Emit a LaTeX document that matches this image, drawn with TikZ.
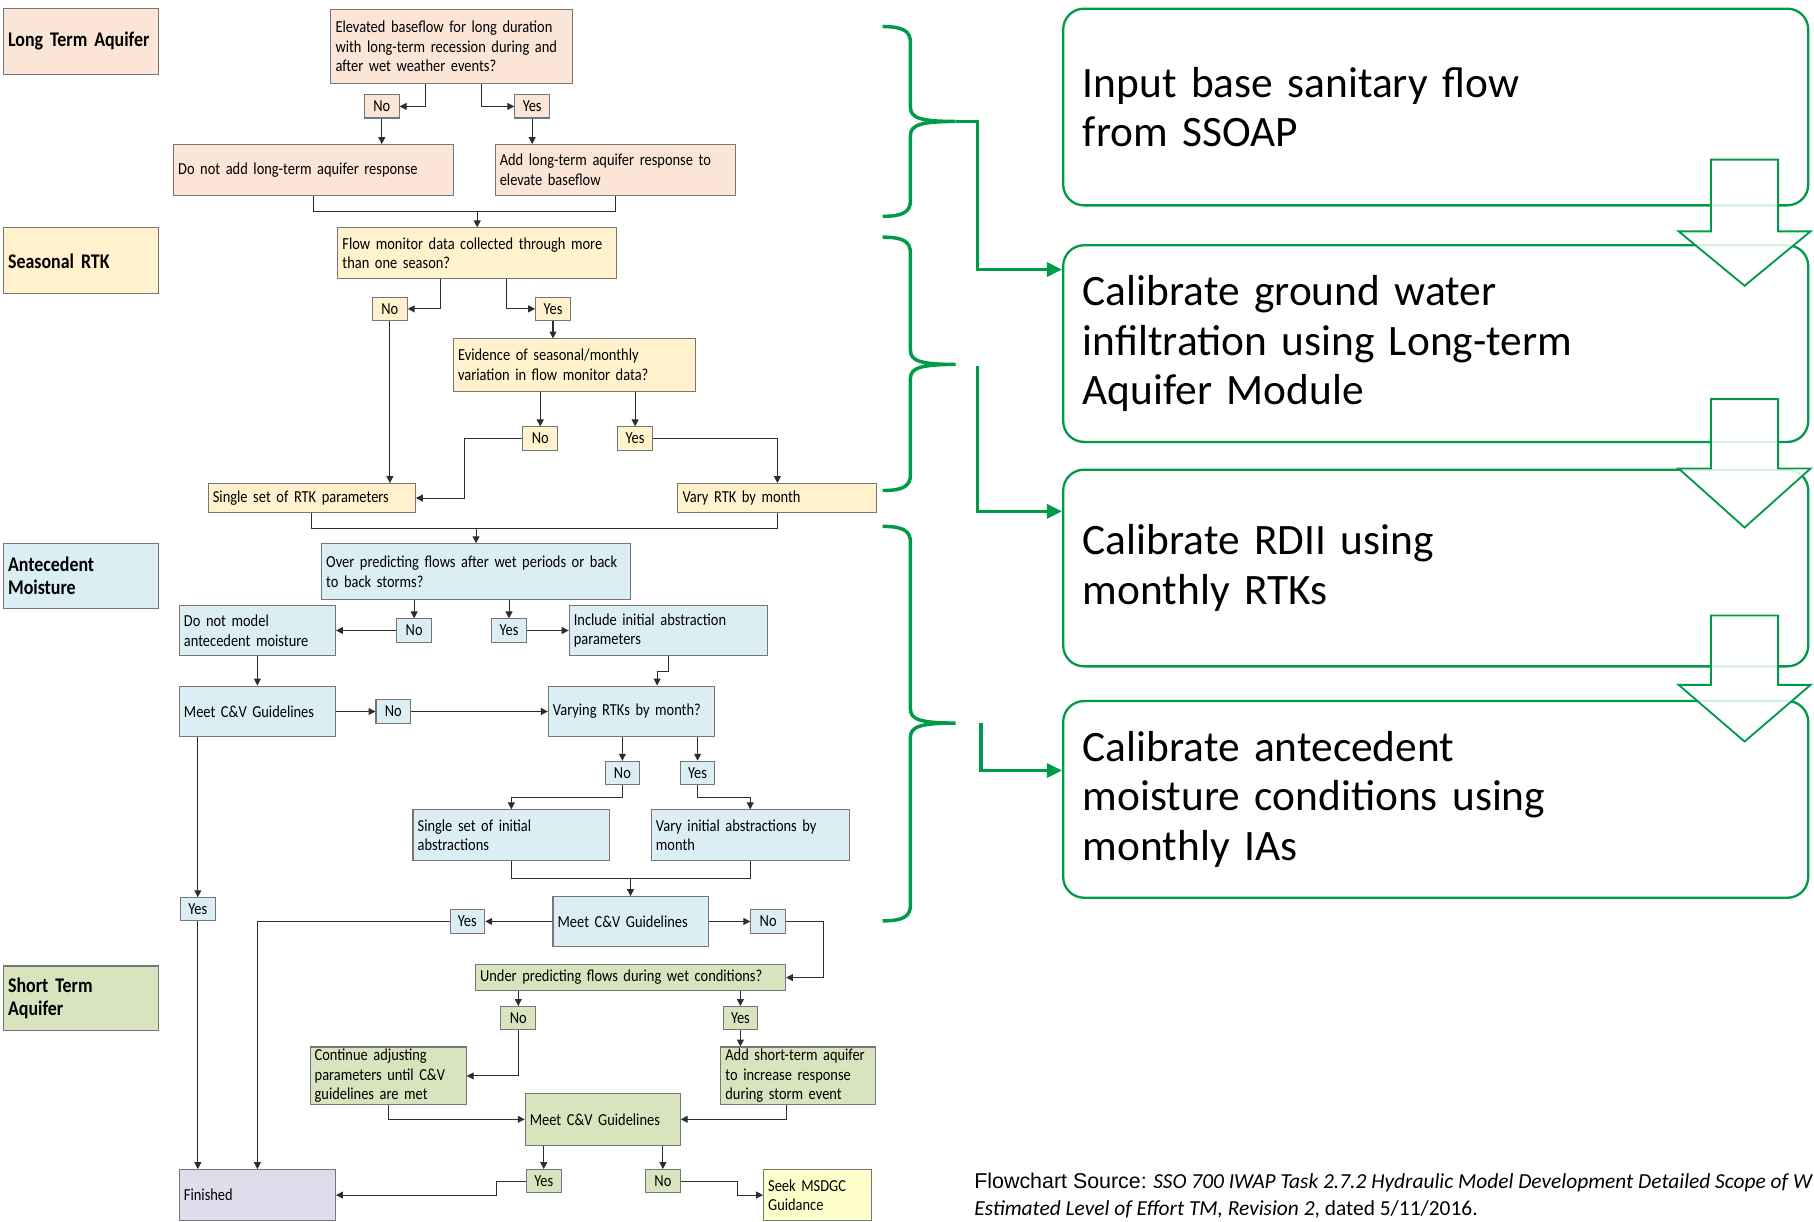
\documentclass[tikz,border=0pt]{standalone}
\usepackage{fontspec}
\usepackage{tikz}
\setmainfont{Carlito}
\newfontfamily\boxfont[FakeStretch=0.86]{Carlito}
\newfontfamily\srcfont{Liberation Sans}
\definecolor{ltpeach}{RGB}{251,229,214}
\definecolor{ltyellow}{RGB}{255,242,204}
\definecolor{ltblue}{RGB}{219,238,244}
\definecolor{ltgreen}{RGB}{215,228,189}
\definecolor{ltpurple}{RGB}{225,220,236}
\definecolor{paleyellow}{RGB}{255,255,204}
\definecolor{boxgray}{RGB}{118,118,118}
\definecolor{linegray}{RGB}{45,45,45}
\definecolor{stepgreen}{RGB}{0,155,72}
\usetikzlibrary{arrows.meta,calc}

\begin{document}
\begin{tikzpicture}[x=1pt, y=-1pt,
  box/.style 2 args={draw=boxgray, line width=0.9pt, inner xsep=4pt, inner ysep=0pt,
    text width=#1pt, minimum height=#2pt, align=left,
    font=\boxfont\fontsize{14.5}{17}\selectfont},
  cat/.style={box={126}{#1}, font=\boxfont\bfseries\fontsize{18}{20}\selectfont},
  yn/.style={draw=boxgray, line width=0.9pt, inner sep=0pt, minimum width=30pt,
    minimum height=20pt, font=\boxfont\fontsize{14.5}{17}\selectfont},
  arr/.style={draw=linegray, line width=0.9pt, -{Triangle[length=6pt,width=6pt]}},
  ln/.style={draw=linegray, line width=0.9pt},
  stepbox/.style={draw=stepgreen, line width=2pt, rounded corners=18pt, text width=610pt,
    inner xsep=17pt, minimum height=170pt, align=left, font=\fontsize{37.5}{43}\selectfont},
  downarr/.style={draw=stepgreen, line width=1.6pt, fill=white, fill opacity=0.85},
  brace/.style={draw=stepgreen, line width=3pt},
  garr/.style={draw=stepgreen, line width=3pt, -{Triangle[length=13pt,width=12pt]}}
]
\useasboundingbox (0,0) rectangle (1568,1056);
% Category labels
\node[cat=57, fill=ltpeach] (ltacat) at (70,35.5) {Long Term Aquifer};
\node[cat=57, fill=ltyellow] (rtkcat) at (70,225.5) {Seasonal RTK};
\node[cat=56, fill=ltblue] (amcat) at (70,498) {Antecedent\\Moisture};
\node[cat=56, fill=ltgreen] (stacat) at (70,863) {Short Term\\Aquifer};
% Long term aquifer
\node[box={201}{64}, fill=ltpeach] (q1) at (390.5,40) {Elevated baseflow for long duration\\with long-term recession during and\\after wet weather events?};
\node[yn, fill=ltpeach] (no1) at (330,92) {No};
\node[yn, fill=ltpeach] (yes1) at (460,92) {Yes};
\node[box={234}{44}, fill=ltpeach] (noadd) at (271,147) {Do not add long-term aquifer response};
\node[box={200}{44}, fill=ltpeach] (addlt) at (532,147) {Add long-term aquifer response to\\elevate baseflow};
% Seasonal RTK
\node[box={233}{44}, fill=ltyellow] (q2) at (412.5,219) {Flow monitor data collected through more\\than one season?};
\node[yn, fill=ltyellow] (no2) at (337,267) {No};
\node[yn, fill=ltyellow] (yes2) at (478,267) {Yes};
\node[box={201}{45}, fill=ltyellow] (q3) at (496.5,315.5) {Evidence of seasonal/monthly\\variation in flow monitor data?};
\node[yn, fill=ltyellow] (no3) at (467,379) {No};
\node[yn, fill=ltyellow] (yes3) at (549,379) {Yes};
\node[box={171}{25}, fill=ltyellow] (srtk) at (269.5,430.5) {Single set of RTK parameters};
\node[box={164}{25}, fill=ltyellow] (vrtk) at (672,430.5) {Vary RTK by month};
% Antecedent moisture
\node[box={259}{48}, fill=ltblue] (q4) at (411.5,494) {Over predicting flows after wet periods or back\\to back storms?};
\node[yn, fill=ltblue] (no4) at (358,545) {No};
\node[yn, fill=ltblue] (yes4) at (440,545) {Yes};
\node[box={127}{44}, fill=ltblue] (dnm) at (222.5,545) {Do not model\\antecedent moisture};
\node[box={163}{44}, fill=ltblue] (incl) at (577.5,545) {Include initial abstraction\\parameters};
\node[box={127}{44}, fill=ltblue] (mcv1) at (222.5,615) {Meet C\&V Guidelines};
\node[yn, fill=ltblue] (no5) at (340,615) {No};
\node[box={136}{44}, fill=ltblue] (varrtk) at (546,615) {Varying RTKs by month?};
\node[yn, fill=ltblue] (no6) at (538,668) {No};
\node[yn, fill=ltblue] (yes6) at (603,668) {Yes};
\node[box={162}{44}, fill=ltblue] (sia) at (442,722) {Single set of initial\\abstractions};
\node[box={163}{44}, fill=ltblue] (via) at (648.5,722) {Vary initial abstractions by\\month};
\node[box={126}{43}, fill=ltblue] (mcv2) at (545,796.5) {Meet C\&V Guidelines};
\node[yn, fill=ltblue] (yes7) at (404,796.5) {Yes};
\node[yn, fill=ltblue] (no7) at (664,796.5) {No};
\node[yn, fill=ltblue] (yes8) at (171,786) {Yes};
% Short term aquifer
\node[box={260}{22}, fill=ltgreen] (upq) at (545,845) {Under predicting flows during wet conditions?};
\node[yn, fill=ltgreen] (no9) at (448,880) {No};
\node[yn, fill=ltgreen] (yes9) at (640,880) {Yes};
\node[box={127}{50}, fill=ltgreen] (cont) at (335.5,930) {Continue adjusting\\parameters until C\&V\\guidelines are met};
\node[box={126}{50}, fill=ltgreen] (addst) at (690,930) {Add short-term aquifer\\to increase response\\during storm event};
\node[box={126}{45}, fill=ltgreen] (mcv3) at (521,967.5) {Meet C\&V Guidelines};
\node[yn, fill=ltgreen] (yes10) at (470,1021) {Yes};
\node[yn, fill=ltgreen] (no10) at (573,1021) {No};
\node[box={127}{44}, fill=ltpurple] (fin) at (222.5,1033) {Finished};
\node[box={85}{44}, fill=paleyellow] (seek) at (706.5,1033) {Seek MSDGC\\Guidance};
% Connectors
\draw[arr] ([xshift=-22.5pt]q1.south) |- (no1.east);
\draw[arr] ([xshift=25.5pt]q1.south) |- (yes1.west);
\draw[arr] (no1) -- (no1 |- noadd.north);
\draw[arr] (yes1) -- (yes1 |- addlt.north);
\coordinate (j1) at ([yshift=14pt]q2.north);
\draw[ln] (noadd.south) |- (j1) -| (addlt.south);
\draw[arr] (j1) -- (q2.north);
\draw[arr] ([xshift=-31.5pt]q2.south) |- (no2.east);
\draw[arr] ([xshift=25.5pt]q2.south) |- (yes2.west);
\draw[arr] (yes2) -- (yes2 |- q3.north);
\draw[arr] (q3.south -| no3) -- (no3);
\draw[arr] (q3.south -| yes3) -- (yes3);
\draw[arr] (no2) -- (no2 |- srtk.north);
\draw[arr] (no3.west) -- ++(-50,0) |- (srtk.east);
\draw[arr] (yes3.east) -| (vrtk.north);
\coordinate (j2) at ([yshift=13pt]q4.north);
\draw[ln] (srtk.south) |- (j2) -| (vrtk.south);
\draw[arr] (j2) -- (q4.north);
\draw[arr] (q4.south -| no4) -- (no4);
\draw[arr] (q4.south -| yes4) -- (yes4);
\draw[arr] (no4) -- (dnm);
\draw[arr] (yes4) -- (incl);
\draw[arr] (dnm) -- (mcv1);
\draw[arr] (incl.south) -- ++(0,13) -| ([xshift=22pt]varrtk.north);
\draw[arr] (mcv1) -- (no5);
\draw[arr] (no5) -- (varrtk);
\draw[arr] (varrtk.south -| no6) -- (no6);
\draw[arr] (varrtk.south -| yes6) -- (yes6);
\draw[arr] (no6.south) -- ++(0,11) -| (sia.north);
\draw[arr] (yes6.south) -- ++(0,11) -| (via.north);
\coordinate (j3) at ([yshift=15pt]mcv2.north);
\draw[ln] (sia.south) |- (j3) -| (via.south);
\draw[arr] (j3) -- (mcv2.north);
\draw[arr] (mcv2) -- (yes7);
\draw[arr] (mcv2) -- (no7);
\draw[arr] (yes7.west) -| (fin.north);
\draw[arr] (mcv1.south -| yes8) -- (yes8);
\draw[arr] (yes8) -- (yes8 |- fin.north);
\draw[arr] (no7.east) -- ++(32,0) |- (upq.east);
\draw[arr] (upq.south -| no9) -- (no9);
\draw[arr] (upq.south -| yes9) -- (yes9);
\draw[arr] (no9.south) |- (cont.east);
\draw[arr] (yes9) -- (yes9 |- addst.north);
\draw[arr] (cont.south) |- (mcv3.west);
\draw[arr] ([xshift=-10pt]addst.south) |- (mcv3.east);
\draw[arr] (mcv3.south -| yes10) -- (yes10);
\draw[arr] (mcv3.south -| no10) -- (no10);
\draw[arr] (yes10.west) -- ++(-25,0) |- (fin.east);
\draw[arr] (no10.east) -- ++(49,0) |- (seek.west);
% Calibration steps
\node[stepbox] (sa) at (1241,92.5) {Input base sanitary flow\\from SSOAP};
\node[stepbox] (sb) at (1241,297) {Calibrate ground water\\infiltration using Long-term\\Aquifer Module};
\node[stepbox] (sc) at (1241,491) {Calibrate RDII using\\monthly RTKs};
\node[stepbox] (sd) at (1241,691) {Calibrate antecedent\\moisture conditions using\\monthly IAs};
\foreach \t/\h/\p in {138/200/247, 345/405/456, 532/592/641}
  \draw[downarr] (1479,\t) -- (1537,\t) -- (1537,\h) -- (1565,\h) -- (1508,\p) -- (1451,\h) -- (1479,\h) -- cycle;
% Braces
\foreach \a/\m/\b in {23/105/187, 205/315/424, 455/625/796}
  \draw[brace] (763,\a) .. controls (781,\a) and (787,\a+4) .. (787,\a+14) -- (787,\m-12)
    .. controls (787,\m-3) and (796,\m) .. (826,\m) .. controls (796,\m) and (787,\m+3) .. (787,\m+12)
    -- (787,\b-14) .. controls (787,\b-4) and (781,\b) .. (763,\b);
\coordinate (t1) at (826,105);
\coordinate (t2) at (845,316);
\coordinate (t3) at (848,625);
\draw[garr] (t1) -- ++(19,0) |- ([yshift=64pt]sb.west);
\draw[garr] (t2) |- ([yshift=49pt]sc.west);
\draw[garr] (t3) |- ([yshift=25pt]sd.west);
% Source
\node[anchor=north west, align=left, inner sep=0pt, font=\fontsize{18.5}{23}\selectfont] (src) at (842,1014)
  {{\srcfont Flowchart Source:} \textit{SSO 700 IWAP Task 2.7.2 Hydraulic Model Development Detailed Scope of W}\\
   \textit{Estimated Level of Effort TM, Revision 2}, dated 5/11/2016.};
\end{tikzpicture}
\end{document}
